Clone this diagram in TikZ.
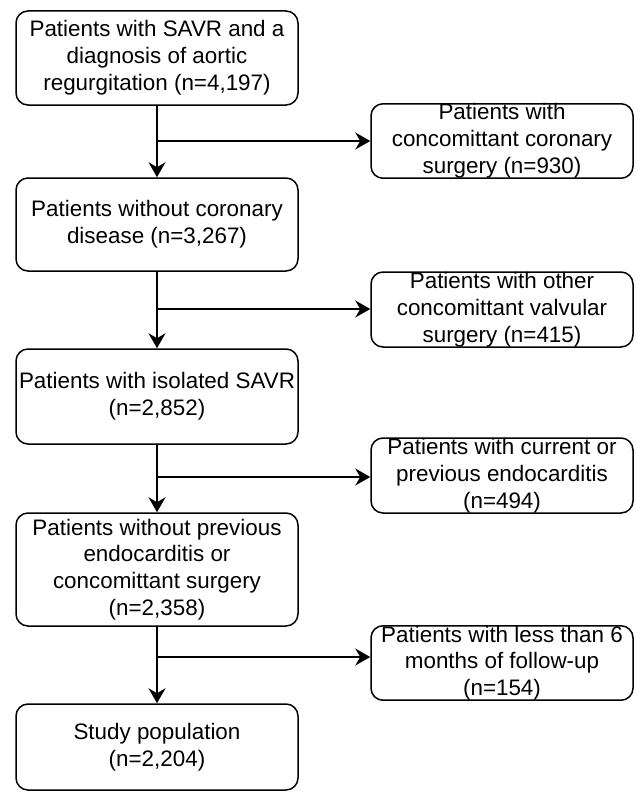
\documentclass[tikz,border=0pt]{standalone}
\usepackage{fontspec}
\setmainfont{Liberation Sans}
\usepackage{tikz}
\usetikzlibrary{arrows.meta,positioning,calc}
\tikzset{box/.style={draw=black,rounded corners=12pt,line width=1.5pt,inner sep=0pt,align=center,
    font=\fontsize{22.4}{26.8}\selectfont,minimum width=282pt},
  exbox/.style={box,minimum width=262pt}}

\begin{document}
\begin{tikzpicture}[x=1pt, y=-1pt, >={Stealth[length=15pt,width=17pt,inset=5pt]}, line width=1.5pt]
        \useasboundingbox (0,0) rectangle (636,792);
        % main flow
        \node[box,minimum height=94pt] (1) at (157,58) {Patients with SAVR and a\\diagnosis of aortic\\regurgitation (n=4,197)};
        \node[box,minimum height=93pt] (2) at (157,224.5) {Patients without coronary\\disease (n=3,267)};
        \node[box,minimum height=95pt] (3) at (157,396.5) {Patients with isolated SAVR\\(n=2,852)};
        \node[box,minimum height=113pt] (4) at (157,569.5) {Patients without previous\\endocarditis or\\concomittant surgery\\(n=2,358)};
        \node[box,minimum height=86pt] (5) at (157,747) {Study population\\(n=2,204)};
        % exclusions
        \node[exbox,minimum height=72pt] (e1) at (502,141) {Patients with\\concomittant coronary\\surgery (n=930)};
        \node[exbox,minimum height=75pt] (e2) at (502,309.5) {Patients with other\\concomittant valvular\\surgery (n=415)};
        \node[exbox,minimum height=75pt] (e3) at (502,475.5) {Patients with current or\\previous endocarditis\\(n=494)};
        \node[exbox,minimum height=74pt] (e4) at (502,663) {Patients with less than 6\\months of follow-up\\(n=154)};
        \coordinate (b1) at (157,141);
        \coordinate (b2) at (157,309);
        \coordinate (b3) at (157,477);
        \coordinate (b4) at (157,657);
        \draw[->] (1) -- (2);
        \draw[->] (2) -- (3);
        \draw[->] (3) -- (4);
        \draw[->] (4) -- (5);
        \draw[->] (b1) -- (b1 -| e1.west);
        \draw[->] (b2) -- (b2 -| e2.west);
        \draw[->] (b3) -- (b3 -| e3.west);
        \draw[->] (b4) -- (b4 -| e4.west);
\end{tikzpicture}
\end{document}
